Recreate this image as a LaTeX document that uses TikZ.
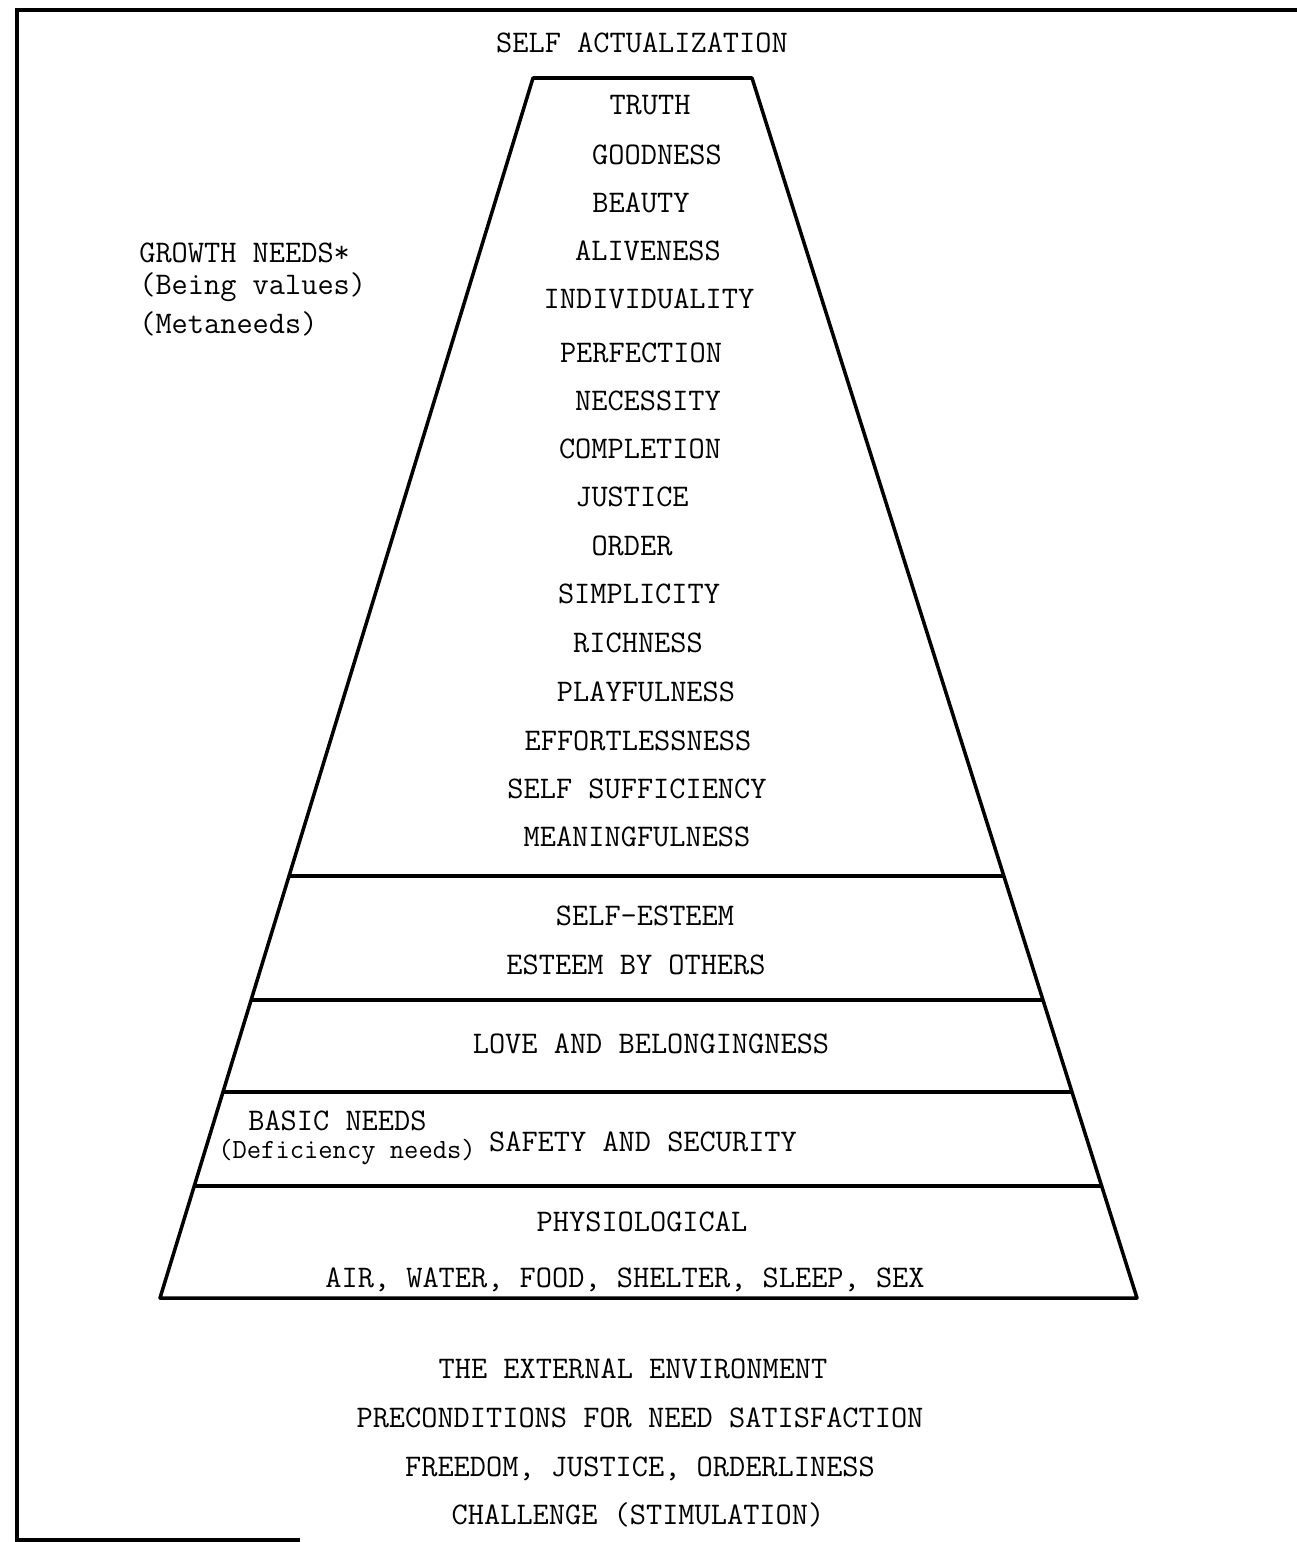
\documentclass[tikz,border=0pt]{standalone}
\usepackage{fontspec}
\usetikzlibrary{positioning, calc}

\begin{document}
\begin{tikzpicture}[x=0.02cm, y=-0.02cm,
	txt/.style={font=\ttfamily\fontsize{17.9}{20}\selectfont, inner sep=0pt, anchor=base},
	side/.style={txt, anchor=base west},
	edge/.style={line width=2pt, line join=round}]
	
	\useasboundingbox (0,0) rectangle (1297,1542);
	
	%Frame
	\draw[line width=2.6pt] (300,1540) -- (17,1540) -- (17,10) -- (1297,10);
	
	%Pyramid
	\coordinate (topLeft) at (533,78);
	\coordinate (topRight) at (752,78);
	\coordinate (bottomLeft) at (160,1298);
	\coordinate (bottomRight) at (1137,1298);
	\draw[edge] (bottomLeft) -- (topLeft) -- (topRight) -- (bottomRight) -- cycle;
	
	%Levels
	\foreach \y [evaluate=\y as \t using (\y-78)/1220] in {876,1000,1092,1186}
	\draw[edge] ($(topLeft)!\t!(bottomLeft)$) -- ($(topRight)!\t!(bottomRight)$);
	
	%Title
	\node (selfActualization) at (642,52) [txt] {SELF ACTUALIZATION};
	
	%Growth values
	\foreach \x/\y/\word [count=\i] in {650/105/TRUTH, 657/155/GOODNESS, 641/203/BEAUTY,
		648/251/ALIVENESS, 649/299/INDIVIDUALITY, 641/353/PERFECTION, 648/401/NECESSITY,
		640/449/COMPLETION, 632/497/JUSTICE, 632/546/ORDER, 639/594/SIMPLICITY,
		638/643/RICHNESS, 646/692/PLAYFULNESS, 638/741/EFFORTLESSNESS,
		637/789/SELF SUFFICIENCY, 637/837/MEANINGFULNESS}
	\node (value\i) at (\x,\y+9.5) [txt] {\word};
	
	%Side labels
	\node (growthNeeds) at (139,262) [side] {GROWTH NEEDS*};
	\node (beingValues) at (139,294) [side] {(Being values)};
	\node (metaneeds) at (139,333) [side] {(Metaneeds)};
	
	\node (basicNeeds) at (248,1130) [side] {BASIC NEEDS};
	\node (deficiencyNeeds) at (218,1158) [side, font=\ttfamily\fontsize{15.8}{18}\selectfont] {(Deficiency needs)};
	
	%Lower levels
	\node (selfEsteem) at (645,925) [txt] {SELF-ESTEEM};
	\node (esteemOthers) at (636,974) [txt] {ESTEEM BY OTHERS};
	\node (love) at (651,1053) [txt] {LOVE AND BELONGINGNESS};
	\node (safety) at (643,1151) [txt] {SAFETY AND SECURITY};
	\node (physiological) at (642,1231) [txt] {PHYSIOLOGICAL};
	\node (basics) at (625,1287) [txt] {AIR, WATER, FOOD, SHELTER, SLEEP, SEX};
	
	%Environment
	\node (environment) at (633,1378) [txt] {THE EXTERNAL ENVIRONMENT};
	\node (preconditions) at (640,1427) [txt] {PRECONDITIONS FOR NEED SATISFACTION};
	\node (freedom) at (640,1476) [txt] {FREEDOM, JUSTICE, ORDERLINESS};
	\node (challenge) at (638,1524) [txt] {CHALLENGE (STIMULATION)};
	
\end{tikzpicture}
\end{document}
